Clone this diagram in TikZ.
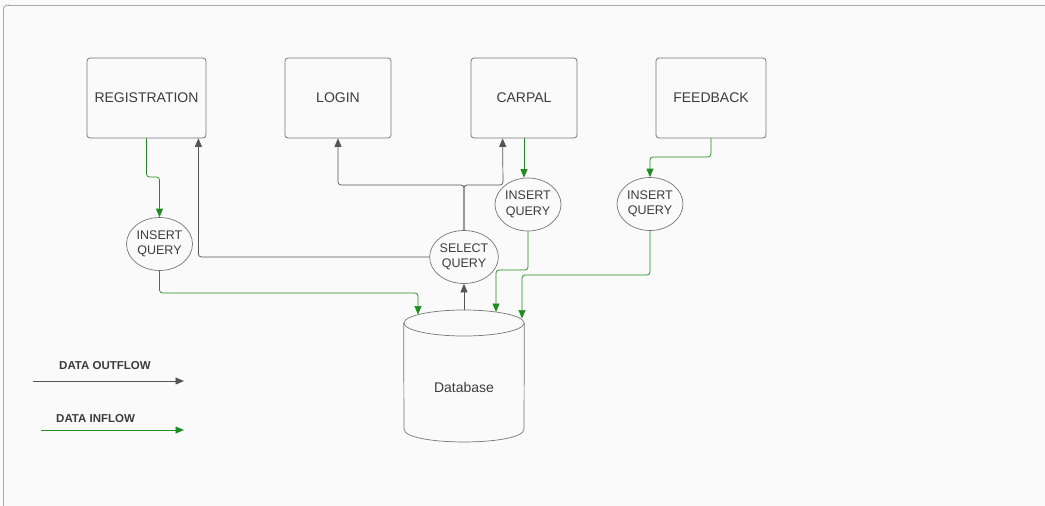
\documentclass[tikz,border=0pt]{standalone}
\usepackage{fontspec}
\setmainfont{Liberation Sans}
\usetikzlibrary{shapes.geometric,arrows.meta,calc}
\definecolor{bgc}{HTML}{FAFAFA}
\definecolor{txt}{HTML}{3C3C3C}
\definecolor{boxc}{HTML}{777777}
\definecolor{blk}{HTML}{555555}
\definecolor{grn}{HTML}{3E8E3E}
\definecolor{grntip}{HTML}{1E8C1E}
\definecolor{framet}{HTML}{AAAAAA}
\definecolor{framel}{HTML}{9DB29D}
\tikzset{
  procbox/.style={draw=boxc, line width=0.8pt, rounded corners=3pt, minimum width=119pt, minimum height=80pt, inner sep=0pt, text=txt, font=\fontsize{14}{16}\selectfont},
  query/.style={ellipse, draw=boxc, line width=0.7pt, minimum width=66pt, minimum height=53pt, inner sep=0pt, text=txt, align=center, font=\fontsize{12.5}{15.5}\selectfont},
  bflow/.style={draw=blk, line width=0.7pt, rounded corners=3pt, -{Triangle[length=8.5pt,width=7pt]}, color=blk},
  gflow/.style={draw=grn, line width=0.7pt, rounded corners=3pt, -{Triangle[length=8.5pt,width=7pt,fill=grntip]}, color=grntip},
  legtxt/.style={text=txt, font=\bfseries\fontsize{11.5}{13}\selectfont, inner sep=0pt}
}
\begin{document}
\begin{tikzpicture}[x=1pt,y=-1pt]
\fill[bgc] (0,0) rectangle (1045,506);
\useasboundingbox (0,0) rectangle (1045,506);
% frame
\draw[framet, line width=0.9pt] (7.5,5) -- (1045,5);
\draw[framel, line width=0.9pt, rounded corners=4pt] (3.5,506) -- (3.5,5) -- (10,5);
% boxes
\node[procbox] (reg) at (146.5,98) {REGISTRATION};
\node[procbox, minimum width=106pt] (login) at (338,98) {LOGIN};
\node[procbox, minimum width=106pt] (carpal) at (524,98) {CARPAL};
\node[procbox, minimum width=110pt] (feed) at (711,98) {FEEDBACK};
% queries
\node[query] (iq1) at (159.5,244) {INSERT\\QUERY};
\node[query] (sq) at (464,257) {SELECT\\QUERY};
\node[query] (cq) at (528,204.5) {INSERT\\QUERY};
\node[query] (fq) at (650,204) {INSERT\\QUERY};
% database cylinder
\node[ellipse, draw=boxc, line width=0.7pt, minimum width=120pt, minimum height=26pt, inner sep=0pt] (dbt) at (464,323) {};
\draw[boxc, line width=0.7pt] (dbt.west) -- (404,429) .. controls (404,446.3) and (524,446.3) .. (524,429) -- (dbt.east);
\node[text=txt, font=\fontsize{14}{16}\selectfont] (db) at (464,387) {Database};
\coordinate (dA) at (418,314.5);
\coordinate (dB) at (496,312);
\coordinate (dC) at (522,318.5);
% green inflows
\draw[gflow] (reg.south) -- (reg.south |- 0,177) -| (iq1.north);
\draw[gflow] (iq1.south) |- (418,293) -- (dA);
\draw[gflow] (carpal.south) -- (carpal.south |- cq.north);
\draw[gflow] (cq.south) |- (496,270) -- (dB);
\draw[gflow] (feed.south) -- (feed.south |- 0,157) -| (fq.north);
\draw[gflow] (fq.south) |- (522,275) -- (dC);
% black outflows
\draw[bflow] (dbt.north) -- (sq.south);
\draw[bflow] (sq.west) -| ($(reg.south east)+(-8,0)$);
\draw[bflow] (sq.north) |- (338,185) -- (login.south);
\draw[bflow] (sq.north) |- (503,185) -- ($(carpal.south west)+(32,0)$);
% legend
\node[legtxt, anchor=west] (lout) at (59,366) {DATA OUTFLOW};
\coordinate (lo1) at (33,381);
\coordinate (lo2) at (184,381);
\draw[bflow] (lo1) -- (lo2);
\node[legtxt, anchor=west] (lin) at (56,419) {DATA INFLOW};
\coordinate (li1) at (41,430);
\coordinate (li2) at (184,430);
\draw[gflow] (li1) -- (li2);
\end{tikzpicture}
\end{document}
